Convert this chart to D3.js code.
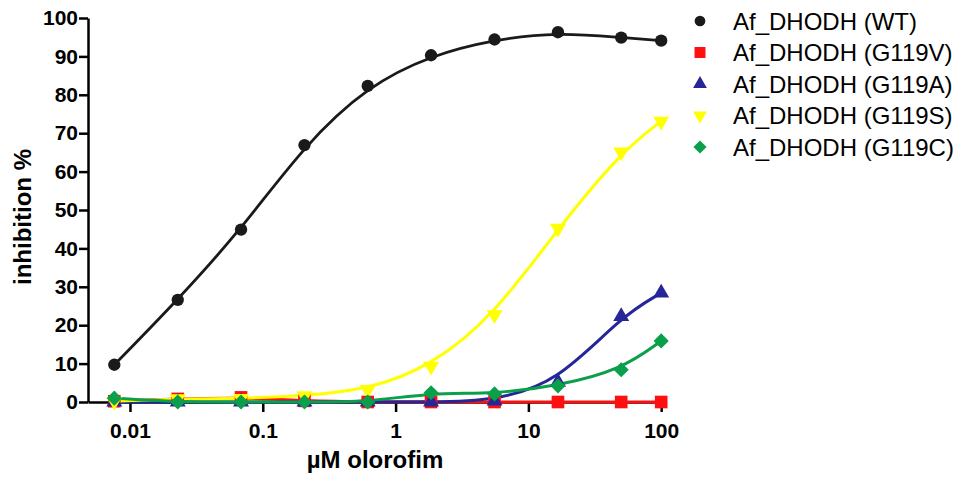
<!DOCTYPE html>
<html>
<head>
<meta charset="utf-8">
<script src="https://cdn.jsdelivr.net/npm/d3@7"></script>
<style>
  body { margin: 0; background: #fff; }
  text { font-family: "Liberation Sans", Arial, sans-serif; fill: #000; }
  .axis path, .axis line { stroke: #000; stroke-width: 2.5px; }
  .axis text { font-size: 21px; font-weight: bold; }
</style>
</head>
<body>
<div id="chart"></div>
<script>
// Concentrations (µM) and % inhibition
var conc = [0.00762, 0.0229, 0.0686, 0.206, 0.617, 1.85, 5.56, 16.7, 50, 100];
var wt    = [9.7, 26.6, 44.9, 66.9, 82.3, 90.3, 94.4, 96.3, 94.9, 94.1];
var g119v = [0.2, 0.8, 1.2, 0.3, 0, 0, 0, 0, 0, 0];
var g119a = [0, 0, 0, 0, 0, 0, 0.3, 5.2, 22.3, 28.4];
var g119s = [0.2, 0.8, 0.9, 1.6, 3.2, 9.3, 22.7, 45.2, 65.1, 73.1];
var g119c = [1.0, 0, 0, 0, 0, 2.4, 2.1, 4.2, 8.4, 15.9];

var seriesNames = ["Af_DHODH (WT)", "Af_DHODH (G119V)", "Af_DHODH (G119A)", "Af_DHODH (G119S)", "Af_DHODH (G119C)"];
var seriesValues = [wt, g119v, g119a, g119s, g119c];
var seriesColors = ["#1a1a1a", "#ff1010", "#262699", "#ffff00", "#0a9f4a"];
var seriesShapes = ["circle", "square", "triangle", "down", "diamond"];

var xTicks = [0.01, 0.1, 1, 10, 100];
var xTickLabels = ["0.01", "0.1", "1", "10", "100"];
var yTicks = d3.range(0, 101, 10);

var svgWidth = 960;
var svgHeight = 477;

var svg = d3.select("#chart")
  .append("svg")
  .attr("width", svgWidth)
  .attr("height", svgHeight);

// Scales (log x like the original dose axis)
var xScale = d3.scaleLog()
  .domain([0.00483, 105])
  .range([88, 664]);

var yScale = d3.scaleLinear()
  .domain([0, 100])
  .range([402, 18]);

// Marker path for each shape
function markerPath(shape, s) {
  if (shape == "circle") return d3.symbol(d3.symbolCircle, 120 * s)();
  if (shape == "square") return d3.symbol(d3.symbolSquare, 160 * s)();
  if (shape == "triangle") return d3.symbol(d3.symbolTriangle, 110 * s)();
  if (shape == "down") return d3.symbol(d3.symbolTriangle, 110 * s)();
  return d3.symbol(d3.symbolSquare, 115 * s)();
}
function markerRotate(shape) {
  if (shape == "down") return 180;
  if (shape == "diamond") return 45;
  return 0;
}

// Axes
svg.append("g")
  .attr("class", "axis")
  .attr("transform", "translate(0," + yScale(0) + ")")
  .call(d3.axisBottom(xScale)
    .tickValues(xTicks)
    .tickFormat((d, i) => xTickLabels[i])
    .tickSize(10)
    .tickSizeOuter(0)
    .tickPadding(11));

svg.append("g")
  .attr("class", "axis")
  .attr("transform", "translate(" + xScale.range()[0] + ",0)")
  .call(d3.axisLeft(yScale)
    .tickValues(yTicks)
    .tickSize(9)
    .tickSizeOuter(0)
    .tickPadding(1));

// Fitted-looking curves drawn through the points
var line = d3.line()
  .x((d, i) => xScale(conc[i]))
  .y(d => yScale(d))
  .curve(d3.curveBasis);

seriesValues.forEach(function (vals, k) {
  svg.append("path")
    .attr("d", line(vals))
    .attr("fill", "none")
    .attr("stroke", seriesColors[k])
    .attr("stroke-width", k == 0 ? 2.8 : 3);
});

// Points
seriesValues.forEach(function (vals, k) {
  svg.append("g").selectAll("path")
    .data(vals)
    .enter()
    .append("path")
    .attr("d", markerPath(seriesShapes[k], 1))
    .attr("transform", (d, i) => "translate(" + xScale(conc[i]) + "," + yScale(d) + ") rotate(" + markerRotate(seriesShapes[k]) + ")")
    .attr("fill", seriesColors[k]);
});

// Axis titles
svg.append("text")
  .attr("transform", "translate(31,217) rotate(-90)")
  .attr("text-anchor", "middle")
  .style("font-size", "24px")
  .style("font-weight", "bold")
  .text("inhibition %");

svg.append("text")
  .attr("x", 375)
  .attr("y", 468)
  .attr("text-anchor", "middle")
  .style("font-size", "24px")
  .style("font-weight", "bold")
  .text("µM olorofim");

// Legend
var legend = svg.append("g");
seriesNames.forEach(function (name, k) {
  var ly = 21 + k * 31.5;
  legend.append("path")
    .attr("d", markerPath(seriesShapes[k], 0.75))
    .attr("transform", "translate(700," + ly + ") rotate(" + markerRotate(seriesShapes[k]) + ")")
    .attr("fill", seriesColors[k]);
  legend.append("text")
    .attr("x", 733)
    .attr("y", ly + 8.5)
    .style("font-size", "24px")
    .text(name);
});
</script>
</body>
</html>
